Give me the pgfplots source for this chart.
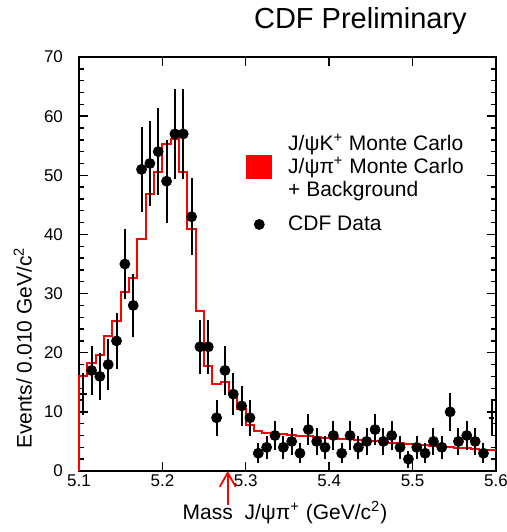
\documentclass[border=0pt]{standalone}
\usepackage{fontspec}
\setmainfont{Liberation Sans}
\usepackage{pgfplots}
\pgfplotsset{compat=1.18}
\usetikzlibrary{arrows.meta}
\newcommand{\tickfont}{\fontsize{8.5pt}{10pt}\selectfont}
\newcommand{\labfont}{\fontsize{10.5pt}{11.65pt}\selectfont}

\pgfplotstableread{
x y
5.10 0
5.10 16.1
5.11 18.2
5.12 19.6
5.13 22.8
5.14 25.3
5.15 30.2
5.16 32.6
5.17 39.2
5.18 46.8
5.19 50.6
5.20 55.3
5.21 56.1
5.22 50.6
5.23 40.9
5.24 27.1
5.25 17.8
5.26 14.7
5.27 15.1
5.28 13.0
5.29 10.4
5.30 7.8
5.31 6.8
5.32 6.40
5.33 6.29
5.34 6.19
5.35 6.08
5.36 5.97
5.37 5.87
5.38 5.76
5.39 5.65
5.40 5.54
5.41 5.44
5.42 5.33
5.43 5.22
5.44 5.12
5.45 5.01
5.46 4.90
5.47 4.80
5.48 4.69
5.49 4.58
5.50 4.47
5.51 4.37
5.52 4.26
5.53 4.15
5.54 4.05
5.55 3.94
5.56 3.83
5.57 3.73
5.58 3.62
5.59 3.51
5.60 3.51
}\mchist

\pgfplotstableread{
x y e
5.115 17 4.12
5.125 16 4.00
5.135 18 4.24
5.145 22 4.69
5.155 35 5.92
5.165 28 5.29
5.175 51 7.14
5.185 52 7.21
5.195 54 7.35
5.205 49 7.00
5.215 57 7.55
5.225 57 7.55
5.235 43 6.56
5.245 21 4.58
5.255 21 4.58
5.265 9 3.00
5.275 17 4.12
5.285 13 3.61
5.295 11 3.32
5.305 9 3.00
5.315 3 1.73
5.325 4 2.00
5.335 6 2.45
5.345 4 2.00
5.355 5 2.24
5.365 3 1.73
5.375 7 2.65
5.385 5 2.24
5.395 4 2.00
5.405 6 2.45
5.415 3 1.73
5.425 6 2.45
5.435 4 2.00
5.445 5 2.24
5.455 7 2.65
5.465 5 2.24
5.475 6 2.45
5.485 4 2.00
5.495 2 1.41
5.505 4 2.00
5.515 3 1.73
5.525 5 2.24
5.535 4 2.00
5.545 10 3.16
5.555 5 2.24
5.565 6 2.45
5.575 5 2.24
5.585 3 1.73
}\cdfdata

\pgfplotstableread{
x y ex ey
5.105 13 0.004 3.61
5.595 9 0.003 3.00
}\edgedata

\begin{document}
\begin{tikzpicture}
\begin{axis}[
  scale only axis,
  width=208.5pt,height=207pt,
  xmin=5.1,xmax=5.6,ymin=0,ymax=70,
  xtick={5.1,5.2,5.3,5.4,5.5,5.6},
  xticklabels={5.1,5.2,5.3,5.4,5.5,5.6},
  ytick={0,10,20,30,40,50,60,70},
  minor y tick num=4,
  major tick length=4.5pt,minor tick length=2.5pt,
  every tick/.style={black,line width=0.7pt},
  axis line style={line width=1pt},
  /pgf/number format/assume math mode=true,
  tick label style={font=\tickfont},
  xticklabel style={inner sep=1.5pt},
  yticklabel style={xshift=-4.5pt},
  label style={font=\labfont},
  xlabel={Mass\ \ J/ψπ\textsuperscript{+} (GeV/c\textsuperscript{2})},
  ylabel={Events/ 0.010 GeV/c\textsuperscript{2}},
  x label style={at={(axis description cs:0.494,-0.118)},anchor=base},
  y label style={at={(axis description cs:-0.1134,0.297)},anchor=base},
  clip=false,
  legend cell align=left,
  legend style={at={(axis description cs:0.4005,0.816)},anchor=north west,
    draw=none,fill=none,inner sep=0pt,row sep=8pt,column sep=8pt,
    font=\labfont,nodes={inner sep=0pt,align=left}},
]
\addplot[red,line width=1pt,const plot mark left,forget plot] table {\mchist};
\addplot[black,only marks,mark=*,mark size=2.5pt,forget plot,
  error bars/.cd,y dir=both,y explicit,error mark=none,
  error bar style={line width=1pt}]
  table[x=x,y=y,y error=e] {\cdfdata};
\addplot[black,only marks,mark=*,mark size=0pt,forget plot,
  error bars/.cd,y dir=both,y explicit,x dir=both,x explicit,error mark=none,
  error bar style={line width=1pt}]
  table[x=x,y=y,x error=ex,y error=ey] {\edgedata};
\addlegendimage{legend image code/.code={\fill[red] (0pt,-5.75pt) rectangle (12.5pt,5.75pt);}}
\addlegendentry{J/ψK\textsuperscript{+} Monte Carlo\\J/ψπ\textsuperscript{+} Monte Carlo\\+ Background}
\addlegendimage{legend image code/.code={\fill[black] (6.25pt,0pt) circle (2.5pt);}}
\addlegendentry{CDF Data}
\draw[red,line width=0.9pt,-{Straight Barb[length=7pt,width=8pt]}] (axis cs:5.2783,-5.75) -- (axis cs:5.2783,0);
\end{axis}
\node[anchor=base west,font=\fontsize{14.5pt}{17pt}\selectfont] at (84pt,221.3pt) {CDF Preliminary};
\pgfresetboundingbox
\path[use as bounding box] (-39.5pt,-30.5pt) rectangle (214pt,235.5pt);
\end{tikzpicture}
\end{document}
